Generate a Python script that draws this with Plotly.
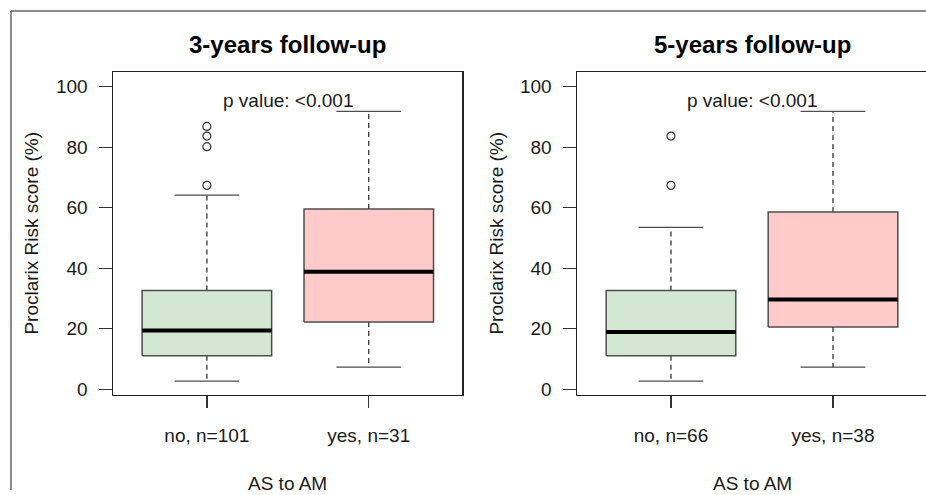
import plotly.graph_objects as go

# ---------------- data ----------------
titles = ["3-years follow-up", "5-years follow-up"]
p_value_text = "p value: <0.001"
x_title = "AS to AM"
y_title = "Proclarix Risk score (%)"

categories_3y = ["no, n=101", "yes, n=31"]
lower_3y = [2.7, 7.3]
q1_3y = [11.1, 22.2]
median_3y = [19.4, 38.8]
q3_3y = [32.6, 59.6]
upper_3y = [64.2, 91.9]
outliers_3y = [[67.4, 80.2, 83.7, 86.9], []]

categories_5y = ["no, n=66", "yes, n=38"]
lower_5y = [2.7, 7.3]
q1_5y = [11.1, 20.6]
median_5y = [18.9, 29.7]
q3_5y = [32.6, 58.6]
upper_5y = [53.5, 91.9]
outliers_5y = [[67.4, 83.7], []]

y_ticks = [0, 20, 40, 60, 80, 100]
fill_colors = ["#d3e7d3", "#ffcaca"]

# ---------------- styling ----------------
W, H = 926, 495
FONT = "Liberation Sans, Arial, sans-serif"
TXT = "#1a1a1a"
BOXLINE = "#4d4d4d"
BOX_HALF = 0.4
CAP_HALF = 0.2

fig = go.Figure()

panels = [
    dict(cats=categories_3y, lo=lower_3y, q1=q1_3y, med=median_3y, q3=q3_3y,
         up=upper_3y, out=outliers_3y, xa="x", ya="y"),
    dict(cats=categories_5y, lo=lower_5y, q1=q1_5y, med=median_5y, q3=q3_5y,
         up=upper_5y, out=outliers_5y, xa="x2", ya="y2"),
]

for p in panels:
    for i, cat in enumerate(p["cats"]):
        c = i + 1
        xa, ya = p["xa"], p["ya"]
        # whiskers (dashed)
        fig.add_trace(go.Scatter(
            x=[c, c, None, c, c], y=[p["q3"][i], p["up"][i], None, p["q1"][i], p["lo"][i]],
            mode="lines", line=dict(color="#333333", width=1.3, dash="5px,4px"),
            xaxis=xa, yaxis=ya, showlegend=False, hoverinfo="skip"))
        # caps
        fig.add_trace(go.Scatter(
            x=[c - CAP_HALF, c + CAP_HALF, None, c - CAP_HALF, c + CAP_HALF],
            y=[p["up"][i], p["up"][i], None, p["lo"][i], p["lo"][i]],
            mode="lines", line=dict(color=BOXLINE, width=1.3),
            xaxis=xa, yaxis=ya, showlegend=False, hoverinfo="skip"))
        # box
        fig.add_trace(go.Scatter(
            x=[c - BOX_HALF, c + BOX_HALF, c + BOX_HALF, c - BOX_HALF, c - BOX_HALF],
            y=[p["q1"][i], p["q1"][i], p["q3"][i], p["q3"][i], p["q1"][i]],
            mode="lines", fill="toself", fillcolor=fill_colors[i],
            line=dict(color=BOXLINE, width=1.5),
            xaxis=xa, yaxis=ya, showlegend=False, hoverinfo="skip"))
        # median
        fig.add_trace(go.Scatter(
            x=[c - BOX_HALF, c + BOX_HALF], y=[p["med"][i], p["med"][i]],
            mode="lines", line=dict(color="black", width=4),
            xaxis=xa, yaxis=ya, showlegend=False, hoverinfo="skip"))
        # outliers
        if p["out"][i]:
            fig.add_trace(go.Scatter(
                x=[c] * len(p["out"][i]), y=p["out"][i], mode="markers",
                marker=dict(symbol="circle-open", size=8, color="#333333",
                            line=dict(width=1.2)),
                xaxis=xa, yaxis=ya, showlegend=False, hoverinfo="skip"))

# ---------------- axes ----------------
def px_x(v):
    return v / W

def px_y(v):
    return 1 - v / H

ydom = [px_y(399), px_y(73)]
xdom1 = [px_x(113), px_x(462)]
xdom2 = [px_x(577), 1.0]

common_x = dict(showgrid=False, zeroline=False, showline=True, mirror=True,
                linecolor="#222222", linewidth=1.5, ticks="outside", ticklen=12,
                tickwidth=1.3, tickcolor="#333333", tickvals=[1, 2],
                tickfont=dict(family=FONT, size=19, color=TXT), fixedrange=True)
common_y = dict(showgrid=False, zeroline=False, showline=True, mirror=True,
                linecolor="#222222", linewidth=1.5, ticks="outside", ticklen=13,
                tickwidth=1.3, tickcolor="#333333", tickvals=y_ticks,
                ticktext=[str(t) for t in y_ticks], range=[-1.9, 104.8],
                tickfont=dict(family=FONT, size=19, color=TXT), fixedrange=True)

fig.update_layout(
    width=W, height=H,
    margin=dict(l=0, r=0, t=0, b=0),
    paper_bgcolor="white", plot_bgcolor="white",
    font=dict(family=FONT, size=19, color=TXT),
    hovermode=False,
    xaxis=dict(common_x, domain=xdom1, range=[0.42, 2.576], ticktext=categories_3y,
               anchor="y", ticklabelstandoff=11),
    yaxis=dict(common_y, domain=ydom, anchor="x", ticklabelstandoff=7),
    xaxis2=dict(common_x, domain=xdom2, range=[0.42, 2.574], ticktext=categories_5y,
                anchor="y2", ticklabelstandoff=11),
    # right edge of the second panel is cropped off in the reference
    yaxis2=dict(common_y, domain=ydom, anchor="x2", ticklabelstandoff=7, mirror=False),
)

# ---------------- texts ----------------
annotations = []
for k, (xa, ya, dom) in enumerate([("x", "y", xdom1), ("x2", "y2", [px_x(577), px_x(927)])]):
    cx = (dom[0] + dom[1]) / 2
    annotations.append(dict(text="<b>%s</b>" % titles[k], xref="paper", yref="paper",
                            x=cx, y=px_y(45), xanchor="center", yanchor="middle",
                            showarrow=False, font=dict(family=FONT, size=24, color="black")))
    annotations.append(dict(text=p_value_text, xref=xa, yref=ya, x=1.5, y=95.5,
                            xanchor="center", yanchor="middle", showarrow=False,
                            font=dict(family=FONT, size=19, color=TXT)))
    annotations.append(dict(text=x_title, xref="paper", yref="paper", x=cx, y=px_y(488),
                            xanchor="center", yanchor="middle", showarrow=False,
                            font=dict(family=FONT, size=19, color=TXT)))
annotations.append(dict(text=y_title, xref="paper", yref="paper", x=px_x(32), y=px_y(236),
                        xanchor="center", yanchor="middle", textangle=-90, showarrow=False,
                        font=dict(family=FONT, size=19, color=TXT)))
annotations.append(dict(text=y_title, xref="paper", yref="paper", x=px_x(497), y=px_y(236),
                        xanchor="center", yanchor="middle", textangle=-90, showarrow=False,
                        font=dict(family=FONT, size=19, color=TXT)))
fig.update_layout(annotations=annotations)

# outer grey frame (only its top and left edges are visible in the reference)
frame_line = dict(color="#8c8c8c", width=2)
fig.add_shape(type="line", xref="paper", yref="paper",
              x0=px_x(11), x1=1.0, y0=px_y(11), y1=px_y(11), line=frame_line, layer="below")
fig.add_shape(type="line", xref="paper", yref="paper",
              x0=px_x(11), x1=px_x(11), y0=px_y(11), y1=0.0, line=frame_line, layer="below")

fig.write_html("out.html",
               config={"displayModeBar": False, "staticPlot": True},
               post_script="document.body.style.margin='0';"
                           "document.body.style.overflow='hidden';")
